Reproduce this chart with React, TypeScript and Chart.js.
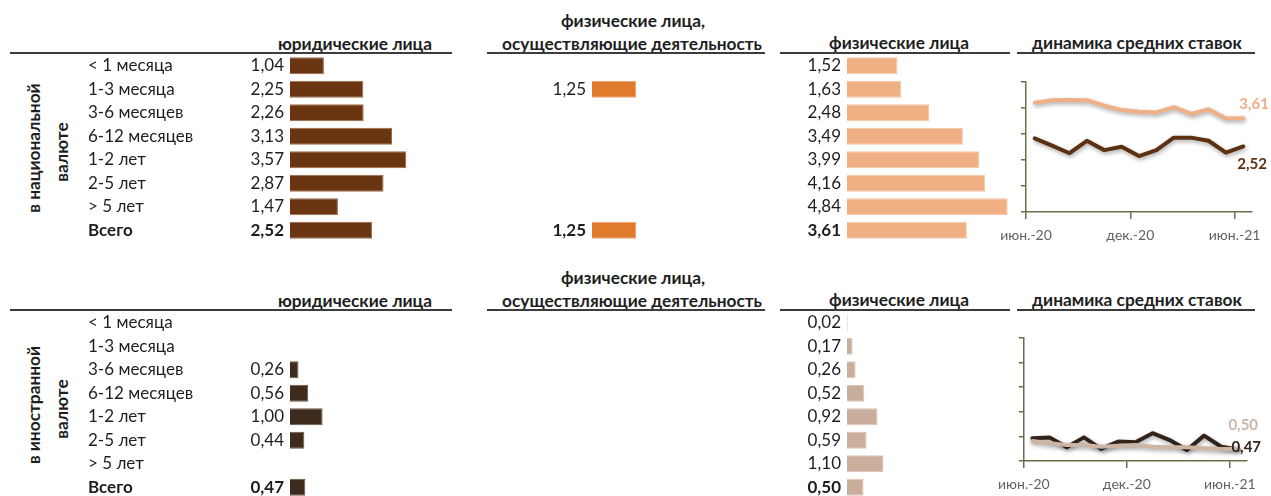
import React, { useEffect, useRef } from 'react';
import { Chart, registerables } from 'chart.js';

Chart.register(...registerables);

// ---------- data ----------
const categories = ['< 1 месяца', '1-3 месяца', '3-6 месяцев', '6-12 месяцев', '1-2 лет', '2-5 лет', '> 5 лет', 'Всего'];

const natLegal = [1.04, 2.25, 2.26, 3.13, 3.57, 2.87, 1.47, 2.52];
const natEntrepreneurs = [null, 1.25, null, null, null, null, null, 1.25];
const natIndividuals = [1.52, 1.63, 2.48, 3.49, 3.99, 4.16, 4.84, 3.61];

const forLegal = [null, null, 0.26, 0.56, 1.0, 0.44, null, 0.47];
const forEntrepreneurs = [null, null, null, null, null, null, null, null];
const forIndividuals = [0.02, 0.17, 0.26, 0.52, 0.92, 0.59, 1.1, 0.5];

const months = ['июн.-20', 'июл.-20', 'авг.-20', 'сен.-20', 'окт.-20', 'ноя.-20', 'дек.-20', 'янв.-21', 'фев.-21', 'мар.-21', 'апр.-21', 'май.-21', 'июн.-21'];
const natLegalDynamics = [2.83, 2.55, 2.26, 2.74, 2.38, 2.51, 2.15, 2.38, 2.86, 2.86, 2.74, 2.28, 2.52];
const natIndividualsDynamics = [4.2, 4.3, 4.31, 4.3, 4.09, 3.92, 3.86, 3.83, 4.03, 3.77, 3.95, 3.6, 3.61];
const forLegalDynamics = [0.92, 0.96, 0.56, 0.96, 0.49, 0.79, 0.76, 1.13, 0.85, 0.45, 1.03, 0.58, 0.47];
const forIndividualsDynamics = [0.81, 0.72, 0.65, 0.65, 0.58, 0.62, 0.65, 0.58, 0.56, 0.56, 0.52, 0.49, 0.5];

const xTickMonths = [0, 6, 12];
const xTickLabels = ['июн.-20', 'дек.-20', 'июн.-21'];

// ---------- styles ----------
const FONT = 'Lato, "Open Sans", sans-serif';
const TEXT = '#1e1e1e';
const AXIS = '#66704a';
const ROW_FONT = 17;
const HEAD_FONT = 17.3;
const fmt = (v: number) => v.toFixed(2).replace('.', ',');

const valueLabelPlugin = {
  id: 'valueLabels',
  afterDatasetsDraw(chart: any) {
    const ctx = chart.ctx;
    const meta = chart.getDatasetMeta(0);
    const values = chart.data.datasets[0].data;
    ctx.save();
    ctx.textAlign = 'right';
    ctx.textBaseline = 'middle';
    ctx.fillStyle = TEXT;
    meta.data.forEach((el: any, i: number) => {
      const v = values[i];
      if (v == null) return;
      ctx.font = `${i === categories.length - 1 ? 'bold ' : ''}${ROW_FONT}px ${FONT}`;
      ctx.fillText(fmt(v), chart.chartArea.left - 6, el.y);
    });
    ctx.restore();
  },
};

type BarProps = {
  left: number; top: number; width: number; height: number;
  barStart: number; values: (number | null)[]; color: string; border: string; showCategories: boolean;
};

function BarPanel({ left, top, width, height, barStart, values, color, border, showCategories }: BarProps) {
  const ref = useRef<HTMLCanvasElement>(null);
  useEffect(() => {
    const chart = new Chart(ref.current as HTMLCanvasElement, {
      type: 'bar',
      data: {
        labels: categories,
        datasets: [{
          data: values as any,
          backgroundColor: color,
          borderColor: border,
          borderWidth: 1,
          categoryPercentage: 1,
          barPercentage: 0.72,
        }],
      },
      options: {
        indexAxis: 'y',
        responsive: false,
        animation: false,
        layout: { padding: 0 },
        plugins: { legend: { display: false }, tooltip: { enabled: false } },
        scales: {
          x: { display: false, min: 0, max: 5 },
          y: {
            display: showCategories,
            afterFit: (s: any) => {
              s.width = barStart;
              s.paddingTop = 0;
              s.paddingBottom = 0;
            },
            grid: { display: false },
            border: { display: false },
            ticks: {
              crossAlign: 'far',
              padding: 0,
              color: TEXT,
              font: (c: any) => ({ family: FONT, size: ROW_FONT, weight: c.index === categories.length - 1 ? 'bold' : 'normal' }),
            },
          },
        },
      } as any,
      plugins: [valueLabelPlugin],
    });
    return () => chart.destroy();
  }, []);
  return <canvas ref={ref} width={width} height={height} style={{ position: 'absolute', left, top }} />;
}

type LineProps = {
  left: number; top: number; width: number; height: number;
  yAxisWidth: number; padTop: number; padRight: number; xAxisHeight: number;
  legal: number[]; individuals: number[]; darkColor: string; lightColor: string;
  darkOffset: [number, number]; lightOffset: [number, number];
};

function LinePanel(p: LineProps) {
  const ref = useRef<HTMLCanvasElement>(null);
  useEffect(() => {
    const shadowPlugin = {
      id: 'shadow',
      beforeDatasetDraw(chart: any) {
        const ctx = chart.ctx;
        ctx.save();
        ctx.shadowColor = 'rgba(0,0,0,0.35)';
        ctx.shadowBlur = 4;
        ctx.shadowOffsetX = 1;
        ctx.shadowOffsetY = 2;
      },
      afterDatasetDraw(chart: any) {
        chart.ctx.restore();
      },
    };
    const endLabelPlugin = {
      id: 'endLabels',
      afterDatasetsDraw(chart: any) {
        const ctx = chart.ctx;
        ctx.save();
        ctx.textAlign = 'left';
        ctx.textBaseline = 'middle';
        ctx.font = `bold 15px ${FONT}`;
        chart.data.datasets.forEach((ds: any, di: number) => {
          const meta = chart.getDatasetMeta(di);
          const last = meta.data[meta.data.length - 1];
          const v = ds.data[ds.data.length - 1].y;
          const off = ds.labelOffset;
          ctx.fillStyle = ds.borderColor;
          ctx.fillText(fmt(v), last.x + off[0], last.y + off[1]);
        });
        ctx.restore();
      },
    };
    const chart = new Chart(ref.current as HTMLCanvasElement, {
      type: 'line',
      data: {
        labels: months,
        datasets: [
          {
            label: 'физические лица',
            data: p.individuals.map((v, i) => ({ x: i + 0.5, y: v })),
            borderColor: p.lightColor,
            borderWidth: 4,
            pointRadius: 0,
            tension: 0,
            borderJoinStyle: 'round',
            borderCapStyle: 'round',
            labelOffset: p.lightOffset,
          } as any,
          {
            label: 'юридические лица',
            data: p.legal.map((v, i) => ({ x: i + 0.5, y: v })),
            borderColor: p.darkColor,
            borderWidth: 4,
            pointRadius: 0,
            tension: 0,
            borderJoinStyle: 'round',
            borderCapStyle: 'round',
            labelOffset: p.darkOffset,
          } as any,
        ],
      },
      options: {
        responsive: false,
        animation: false,
        layout: { padding: { left: 0, top: p.padTop, right: p.padRight, bottom: 0 } },
        plugins: { legend: { display: false }, tooltip: { enabled: false } },
        scales: {
          x: {
            type: 'linear',
            min: 0,
            max: months.length,
            afterFit: (s: any) => { s.height = p.xAxisHeight; },
            border: { color: AXIS, width: 1.5 },
            grid: { drawOnChartArea: false, drawTicks: true, tickLength: 7, color: AXIS, lineWidth: 1.5 },
            ticks: {
              stepSize: 6,
              includeBounds: false,
              autoSkip: false,
              maxRotation: 0,
              padding: 8,
              color: '#616161',
              font: { family: FONT, size: 14 },
              callback: (v: any) => {
                const idx = xTickMonths.indexOf(Number(v));
                return idx >= 0 ? xTickLabels[idx] : '';
              },
            },
          },
          y: {
            min: 0,
            max: 5,
            afterFit: (s: any) => { s.width = p.yAxisWidth; },
            border: { color: AXIS, width: 1.5 },
            grid: { drawOnChartArea: false, drawTicks: true, tickLength: 5, color: AXIS, lineWidth: 1.5 },
            ticks: { display: false, stepSize: 1 },
          },
        },
      } as any,
      plugins: [shadowPlugin, endLabelPlugin],
    });
    return () => chart.destroy();
  }, []);
  return <canvas ref={ref} width={p.width} height={p.height} style={{ position: 'absolute', left: p.left, top: p.top }} />;
}

function Label({ text, cx, cy, rotate = false, size = HEAD_FONT }: { text: string; cx: number; cy: number; rotate?: boolean; size?: number }) {
  return (
    <div
      style={{
        position: 'absolute',
        left: cx,
        top: cy,
        transform: `translate(-50%, -50%)${rotate ? ' rotate(-90deg)' : ''}`,
        whiteSpace: 'nowrap',
        fontFamily: FONT,
        fontSize: size,
        fontWeight: 700,
        color: TEXT,
        lineHeight: '20px',
      }}
    >
      {text}
    </div>
  );
}

function Rule({ x1, x2, y }: { x1: number; x2: number; y: number }) {
  return <div style={{ position: 'absolute', left: x1, top: y - 1, width: x2 - x1, height: 2, background: '#3c3c3c' }} />;
}

function Section({ offset, currencyWord, legal, entrepreneurs, individuals, legalDyn, indivDyn, colors, lineGeom }: any) {
  const o = offset;
  return (
    <>
      <Label text="физические лица," cx={633} cy={21 + o} />
      <Label text="юридические лица" cx={355} cy={44 + o} />
      <Label text="осуществляющие деятельность" cx={632} cy={44 + o} />
      <Label text="физические лица" cx={899} cy={43 + o} />
      <Label text="динамика средних ставок" cx={1137} cy={43 + o} />
      <Rule x1={10} x2={452} y={53 + o} />
      <Rule x1={487} x2={765} y={53 + o} />
      <Rule x1={780} x2={1010} y={53 + o} />
      <Rule x1={1017} x2={1255} y={53 + o} />
      <Label text={currencyWord} cx={34} cy={148 + o} rotate size={17.3} />
      <Label text="валюте" cx={62} cy={152 + o} rotate size={17.3} />
      <BarPanel left={88} top={54 + o} width={365} height={188} barStart={202} values={legal} color={colors.legal} border={colors.legalBorder} showCategories />
      <BarPanel left={540} top={54 + o} width={228} height={188} barStart={52} values={entrepreneurs} color={colors.entr} border={colors.entrBorder} showCategories={false} />
      <BarPanel left={795} top={54 + o} width={218} height={188} barStart={52} values={individuals} color={colors.indiv} border={colors.indivBorder} showCategories={false} />
      <LinePanel {...lineGeom} legal={legalDyn} individuals={indivDyn} darkColor={colors.lineDark} lightColor={colors.lineLight} />
    </>
  );
}

export default function App() {
  return (
    <div style={{ position: 'absolute', left: 0, top: 0, width: 1271, height: 496, overflow: 'hidden', background: '#fff' }}>
      <Section
        offset={0}
        currencyWord="в национальной"
        legal={natLegal}
        entrepreneurs={natEntrepreneurs}
        individuals={natIndividuals}
        legalDyn={natLegalDynamics}
        indivDyn={natIndividualsDynamics}
        colors={{
          legal: '#6b3512', legalBorder: '#9a6a48',
          entr: '#e07a2c', entrBorder: '#eba170',
          indiv: '#f0b084', indivBorder: '#f4c8a6',
          lineDark: '#5c3112', lineLight: '#efb088',
        }}
        lineGeom={{ left: 990, top: 70, width: 281, height: 180, yAxisWidth: 36, padTop: 12, padRight: 19, xAxisHeight: 38, darkOffset: [-6, 18], lightOffset: [-4, -14] }}
      />
      <Section
        offset={257}
        currencyWord="в иностранной"
        legal={forLegal}
        entrepreneurs={forEntrepreneurs}
        individuals={forIndividuals}
        legalDyn={forLegalDynamics}
        indivDyn={forIndividualsDynamics}
        colors={{
          legal: '#3e2b1e', legalBorder: '#6a5848',
          entr: '#e07a2c', entrBorder: '#eba170',
          indiv: '#c9ae9c', indivBorder: '#dac6b8',
          lineDark: '#33241a', lineLight: '#cdb5a3',
        }}
        lineGeom={{ left: 990, top: 326, width: 281, height: 170, yAxisWidth: 32, padTop: 12, padRight: 24, xAxisHeight: 35, darkOffset: [-7, -2], lightOffset: [-10, -24] }}
      />
    </div>
  );
}
